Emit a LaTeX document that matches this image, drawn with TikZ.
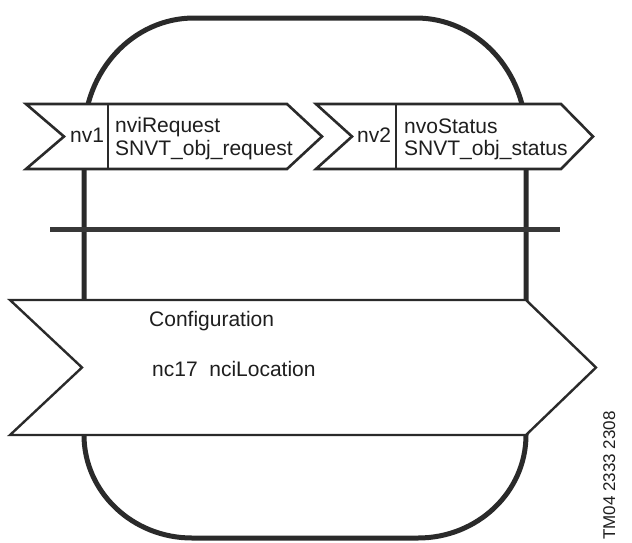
\documentclass[tikz,border=0pt]{standalone}
\usepackage{fontspec}
\setmainfont{Liberation Sans}
\definecolor{inkdark}{HTML}{2A2A2A}
\definecolor{bargray}{HTML}{383838}
\definecolor{inktext}{HTML}{1E1E1E}
\begin{document}
\begin{tikzpicture}[x=1pt,y=-1pt,
  frame/.style={line width=5pt, draw=inkdark},
  outline/.style={line width=2.6pt, draw=inkdark, fill=white, line join=miter},
  divider/.style={line width=2.6pt, draw=inkdark},
  label/.style={anchor=base west, inner sep=0pt, text=inktext,
                font=\fontsize{21}{25}\selectfont},
]
\useasboundingbox (0,0) rectangle (632,542);

% rounded outer frame of the functional block
\draw[frame] (84,300) -- (84,136)
  .. controls (84,70.8) and (133.2,18) .. (194,18) -- (416,18)
  .. controls (476.8,18) and (526,70.8) .. (526,136) -- (526,435)
  .. controls (526,491.9) and (477.6,538) .. (418,538) -- (192,538)
  .. controls (132.4,538) and (84,491.9) .. (84,435) -- cycle;

% separator between network variables and configuration
\draw[line width=5pt, draw=bargray] (50,229) -- (560,229);

% input network variable
\draw[outline] (26,104) -- (287,104) -- (322,136.5) -- (287,169)
  -- (26,169) -- (64,136.5) -- cycle;
\draw[divider] (108,104) -- (108,169);
\node[label] (nv1) at (70,142) {nv1};
\node[label] (nvireq) at (115,132) {nviRequest};
\node[label] (nvitype) at (115,155) {SNVT\_obj\_request};

% output network variable
\draw[outline] (316,104) -- (561,104) -- (593,136.5) -- (561,169)
  -- (316,169) -- (352,136.5) -- cycle;
\draw[divider] (396,104) -- (396,169);
\node[label] (nv2) at (357,142) {nv2};
\node[label] (nvostat) at (404,133) {nvoStatus};
\node[label] (nvotype) at (404,155) {SNVT\_obj\_status};

% configuration properties
\draw[outline, line width=2.4pt] (10,300) -- (526,300) -- (596,367.5)
  -- (526,435) -- (10,435) -- (82,367.5) -- cycle;
\node[label] (config) at (149,326) {Configuration};
\node[label] (nciloc) at (152,376) {nc17~~nciLocation};

% drawing number
\node[anchor=base west, inner sep=0pt, rotate=90, text=inktext,
      font=\fontsize{17}{20}\selectfont] (docno) at (615,540) {TM04 2333 2308};
\end{tikzpicture}
\end{document}
